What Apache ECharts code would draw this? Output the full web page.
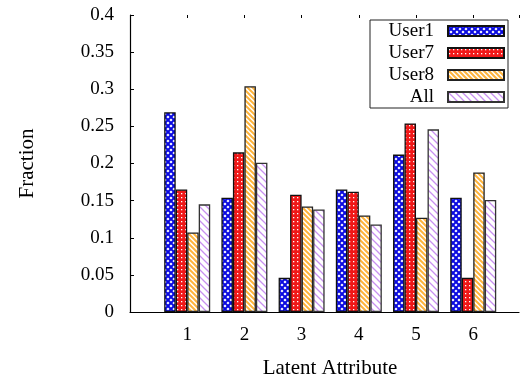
<!DOCTYPE html>
<html>
<head>
<meta charset="utf-8">
<script src="https://cdn.jsdelivr.net/npm/echarts@6/dist/echarts.min.js"></script>
<style>html,body{margin:0;padding:0;background:#fff}#c{width:520px;height:379px}</style>
</head>
<body>
<div id="c"></div>
<script>
const categories = [1, 2, 3, 4, 5, 6];
const seriesNames = ['User1', 'User7', 'User8', 'All'];
const user1 = [0.269, 0.154, 0.046, 0.165, 0.212, 0.154];
const user7 = [0.165, 0.215, 0.158, 0.162, 0.254, 0.046];
const user8 = [0.107, 0.304, 0.142, 0.130, 0.127, 0.188];
const all   = [0.145, 0.201, 0.138, 0.118, 0.246, 0.151];
const yTicks = [0, 0.05, 0.1, 0.15, 0.2, 0.25, 0.3, 0.35, 0.4];

function mk(w, h, draw) {
  const c = document.createElement('canvas');
  c.width = w; c.height = h;
  const g = c.getContext('2d');
  draw(g, w, h);
  return { image: c, repeat: 'repeat' };
}
const patUser1 = mk(6, 6, (g, w, h) => {
  g.fillStyle = '#ffffff'; g.fillRect(0, 0, w, h);
  g.strokeStyle = '#0a0ae0'; g.lineWidth = 2;
  g.beginPath();
  g.moveTo(-1, -1); g.lineTo(w + 1, h + 1);
  g.moveTo(w + 1, -1); g.lineTo(-1, h + 1);
  g.stroke();
});
const patUser7 = mk(4, 4, (g, w, h) => {
  g.fillStyle = '#f01818'; g.fillRect(0, 0, w, h);
  g.fillStyle = '#ffffff';
  g.fillRect(1, 1, 1.3, 1.3);
});
const patUser8 = mk(5, 5, (g, w, h) => {
  g.fillStyle = '#ffffff'; g.fillRect(0, 0, w, h);
  g.strokeStyle = '#ffb43c'; g.lineWidth = 2;
  g.beginPath();
  for (let k = -2; k <= 2; k++) { g.moveTo(k * w - 1, -1); g.lineTo(k * w + w + 1, h + 1); }
  g.stroke();
});
const patAll = mk(7, 7, (g, w, h) => {
  g.fillStyle = '#ffffff'; g.fillRect(0, 0, w, h);
  g.strokeStyle = '#c890f0'; g.lineWidth = 1.3;
  g.beginPath();
  for (let k = -2; k <= 2; k++) { g.moveTo(k * w - 1, -1); g.lineTo(k * w + w + 1, h + 1); }
  g.stroke();
});
const pats = [patUser1, patUser7, patUser8, patAll];
const borders = ['#111', '#111', '#222', '#333'];
const dataSets = [user1, user7, user8, all];

const font = 'Liberation Serif';
const chart = echarts.init(document.getElementById('c'), null, { renderer: 'canvas' });
chart.setOption({
  animation: false,
  textStyle: { fontFamily: font, color: '#000' },
  grid: { left: 130, right: 1, top: 15, bottom: 67, containLabel: false, outerBoundsMode: 'none' },
  legend: {
    orient: 'vertical', left: 370, top: 20, align: 'right',
    itemWidth: 56, itemHeight: 10, itemGap: 0,
    padding: [0, 3, 0, 4],
    borderColor: '#222', borderWidth: 1,
    icon: 'rect',
    textStyle: { fontFamily: font, fontSize: 19, color: '#000', width: 60, align: 'right', lineHeight: 22, padding: [0, 9, 0, 0] },
    data: seriesNames
  },
  xAxis: [{
    type: 'value', min: 0, max: 6.8, interval: 1,
    name: 'Latent Attribute', nameLocation: 'middle', nameGap: 46,
    nameTextStyle: { fontFamily: font, fontSize: 21, color: '#000', padding: [0, 0, 0, 11] },
    axisLine: { show: true, lineStyle: { color: '#000', width: 1.2 } },
    axisTick: { show: false },
    splitLine: { show: false },
    axisLabel: { margin: 14, fontFamily: font, fontSize: 19, color: '#000',
      formatter: v => categories.indexOf(v) >= 0 ? String(v) : '' }
  }, {
    type: 'value', position: 'top', min: 0, max: 6.8, interval: 1,
    axisLine: { show: false },
    axisTick: { show: true, inside: true, length: 3, lineStyle: { color: '#000', width: 1 } },
    splitLine: { show: false },
    axisLabel: { show: false }
  }],
  yAxis: {
    type: 'value', min: 0, max: 0.4, interval: 0.05,
    name: 'Fraction', nameLocation: 'middle', nameGap: 92, nameRotate: 90,
    nameTextStyle: { fontFamily: font, fontSize: 21, color: '#000' },
    axisLine: { show: true, lineStyle: { color: '#000', width: 1.2 } },
    axisTick: { show: true, inside: true, length: 4, lineStyle: { color: '#000' } },
    splitLine: { show: false },
    axisLabel: { margin: 16, fontFamily: font, fontSize: 19, color: '#000',
      formatter: v => { const t = yTicks.find(x => Math.abs(x - v) < 1e-9); return t === undefined ? '' : String(t); } }
  },
  series: seriesNames.map((name, i) => ({
    name, type: 'bar', xAxisIndex: 0,
    barWidth: 11.5, barGap: '0%',
    itemStyle: { color: pats[i], borderColor: borders[i], borderWidth: 1.3 },
    data: categories.map((c, j) => [c, dataSets[i][j]])
  }))
});
</script>
</body>
</html>
